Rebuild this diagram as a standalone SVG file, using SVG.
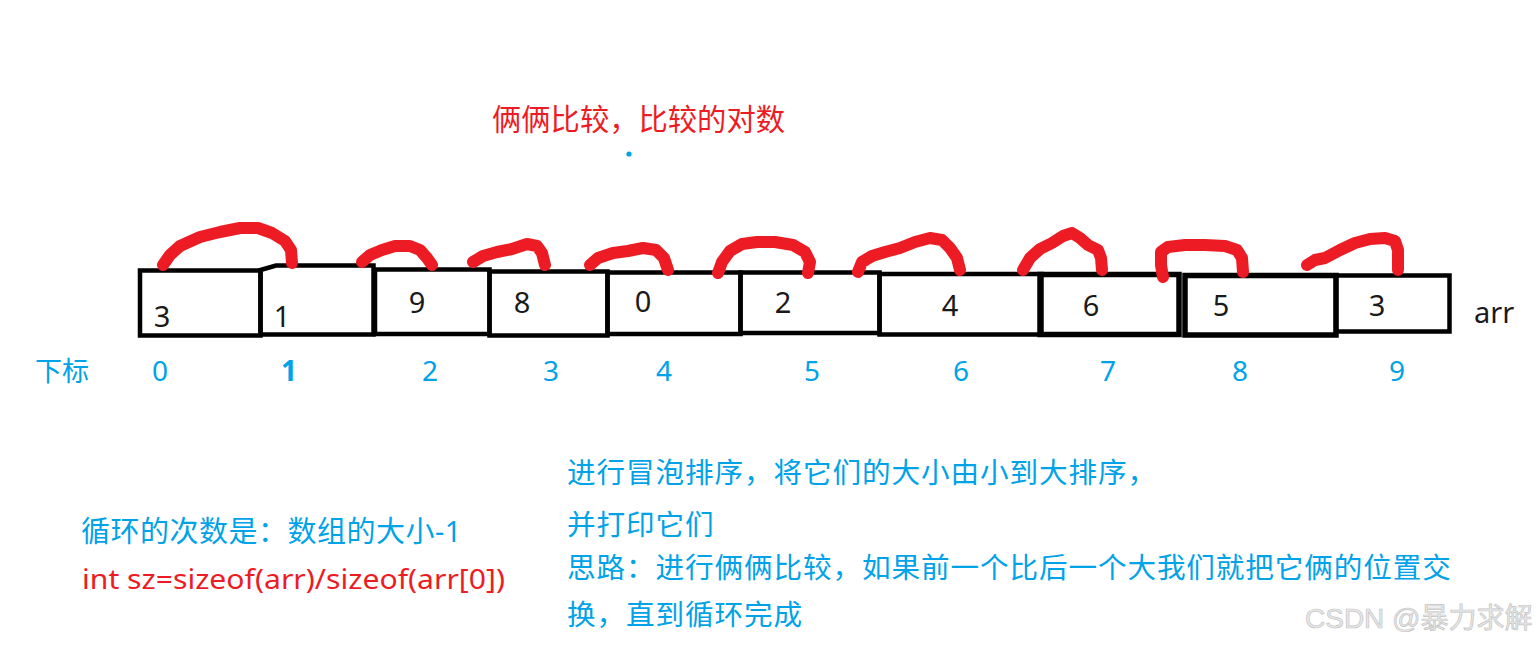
<svg xmlns="http://www.w3.org/2000/svg" width="1537" height="645" viewBox="0 0 1537 645">
<style>
.box{fill:none;stroke:#000;stroke-width:4.5;stroke-linejoin:miter}
.num{font-family:"Noto Sans","Open Sans",sans-serif;font-size:29px;fill:#1a1a1a;text-anchor:middle}
.idx{font-family:"Noto Sans","Open Sans",sans-serif;font-size:28px;fill:#00a2e8;text-anchor:middle}
.cjk{font-family:"Noto Sans","Noto Sans CJK SC",sans-serif}
.blue{fill:#00a2e8}
.red{fill:#ed1c24}
.arc{fill:none;stroke:#ed1c24;stroke-width:12;stroke-linecap:round;stroke-linejoin:round}
</style>
<rect width="1537" height="645" fill="#fff"/>

<g id="title">
<text class="cjk red" x="492" y="130" font-size="29.3">俩俩比较，比较的对数</text>
<circle cx="629" cy="154" r="2.6" fill="#00a2e8"/>
</g>

<g id="box0"><rect class="box" x="140" y="270.5" width="120.5" height="65"/><text class="num" x="162" y="327">3</text></g>
<g id="box1"><path class="box" d="M260.5,270 L276,265.5 L373.5,265.5 L373.5,334.5 L260.5,334.5 Z"/><text class="num" x="282" y="327">1</text></g>
<g id="box2"><rect class="box" x="375" y="269.5" width="114.5" height="64.5"/><text class="num" x="417" y="313">9</text></g>
<g id="box3"><rect class="box" x="489.5" y="271.5" width="118" height="64"/><text class="num" x="522" y="313">8</text></g>
<g id="box4"><rect class="box" x="607.5" y="272.5" width="133" height="61.5"/><text class="num" x="643" y="312">0</text></g>
<g id="box5"><rect class="box" x="740.5" y="272.5" width="139" height="60.5"/><text class="num" x="783" y="313">2</text></g>
<g id="box6"><rect class="box" x="879.5" y="274" width="162" height="60.5"/><text class="num" x="950" y="316">4</text></g>
<g id="box7"><rect class="box" x="1040" y="274.5" width="139" height="60" style="stroke-width:5.5"/><text class="num" x="1091" y="316">6</text></g>
<g id="box8"><rect class="box" x="1185" y="275.5" width="151" height="59.5" style="stroke-width:5.5"/><text class="num" x="1221" y="316">5</text></g>
<g id="box9"><rect class="box" x="1336" y="275.5" width="113.5" height="56"/><text class="num" x="1377" y="316">3</text></g>
<g id="arr-label"><text x="1474" y="323" font-family="Noto Sans, Open Sans, sans-serif" font-size="29" fill="#1a1a1a">arr</text></g>

<g id="connectors">
<polyline class="arc" points="163,265 170,255 180,246 200,237 220,232 240,228 258,228 272,233 285,241 291,250 292,263"/>
<polyline class="arc" points="362,262 370,255 382,250 395,246 410,246 420,250 427,258 432,265"/>
<polyline class="arc" points="473,262 483,256 497,252 512,249 527,244 537,246 542,253 545,265"/>
<polyline class="arc" points="590,265 598,258 613,253 628,251 643,248 656,250 664,258 668,270"/>
<polyline class="arc" points="718,273 722,262 730,251 742,244 757,242 775,242 793,245 805,252 810,262 808,273"/>
<polyline class="arc" points="858,272 862,262 872,256 885,252 900,248 915,242 930,238 942,240 950,248 957,258 960,270"/>
<polyline class="arc" points="1023,270 1030,258 1040,249 1052,243 1063,236 1072,233 1080,238 1088,245 1098,250 1101,258 1102,270"/>
<polyline class="arc" points="1163,277 1161,265 1161,252 1168,247 1185,245 1205,245 1225,246 1237,250 1242,258 1243,272"/>
<polyline class="arc" points="1307,265 1315,260 1325,258 1340,250 1355,243 1370,239 1385,238 1395,241 1398,250 1398,270"/>
</g>

<g id="index-row">
<text class="cjk blue" x="35" y="381" font-size="27">下标</text>
<text class="idx" x="160" y="381">0</text>
<text class="idx" x="289" y="381" font-weight="bold">1</text>
<text class="idx" x="430" y="381">2</text>
<text class="idx" x="551" y="381">3</text>
<text class="idx" x="664" y="381">4</text>
<text class="idx" x="812" y="381">5</text>
<text class="idx" x="961" y="381">6</text>
<text class="idx" x="1108" y="381">7</text>
<text class="idx" x="1240" y="381">8</text>
<text class="idx" x="1397" y="381">9</text>
</g>

<g id="loop-note">
<text class="cjk blue" x="81" y="542" font-size="29" letter-spacing="0.5">循环的次数是：数组的大小-1</text>
<text class="cjk red" x="82" y="589" font-size="28" textLength="423" lengthAdjust="spacingAndGlyphs">int sz=sizeof(arr)/sizeof(arr[0])</text>
</g>

<g id="description" class="cjk blue" font-size="28.6" letter-spacing="0.9">
<text x="567" y="483">进行冒泡排序，将它们的大小由小到大排序，</text>
<text x="567" y="535">并打印它们</text>
<text x="567" y="578">思路：进行俩俩比较，如果前一个比后一个大我们就把它俩的位置交</text>
<text x="567" y="625">换，直到循环完成</text>
</g>

<g id="watermark">
<text x="1305" y="628" font-family="Liberation Sans, Noto Sans CJK SC, sans-serif" font-size="28" fill="#e9e9e9" stroke="#c4c4c4" stroke-width="0.7">CSDN @暴力求解</text>
</g>
</svg>
